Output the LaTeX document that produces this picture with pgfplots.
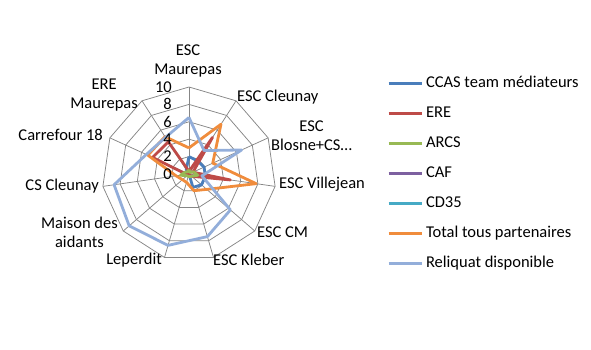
\documentclass[border=0pt]{standalone}
\usepackage{fontspec}
\setmainfont{Carlito}
\usepackage{pgfplots}
\usepackage{pgfplotstable}
\pgfplotsset{compat=1.18}
\usepgfplotslibrary{polar}
\definecolor{ccas}{HTML}{4A7EBB}
\definecolor{ere}{HTML}{BE4B48}
\definecolor{arcs}{HTML}{98B954}
\definecolor{caf}{HTML}{7D60A0}
\definecolor{cdtf}{HTML}{46AAC5}
\definecolor{total}{HTML}{F08C3C}
\definecolor{reliq}{HTML}{93AEDA}
\definecolor{gridc}{HTML}{868686}

% angle = 90 - k*360/11 ; last row closes the polygon
\pgfplotstableread{
angle    ccas ere  arcs caf cdtf total reliq
90       2.0  0.3  0.5  0   0    3.0   6.5
57.273   1.8  5.0  0.2  0   0    6.8   3.2
24.545   1.9  0.5  0.6  0   0    3.0   6.65
-8.182   1.9  4.8  1.0  0   0    7.8   1.5
-40.909  1.9  0.4  0.4  0   0    2.7   6.3
-73.636  1.6  0.1  0.3  0   0    2.0   7.5
-106.364 0.0  0.0  0.3  0   0    1.0   8.55
-139.091 0.0  0.0  0.3  0   0    1.0   9.1
-171.818 0.0  0.3  1.0  0   0    1.5   8.7
-204.545 0.0  4.6  0.5  0   0    5.2   5.4
-237.273 0.6  4.4  0.3  0   0    5.1   5.0
-270     2.0  0.3  0.5  0   0    3.0   6.5
}\radar

\begin{document}
\fontsize{16.5}{19}\selectfont
\begin{tikzpicture}[x=1pt,y=1pt]
\useasboundingbox (0,0) rectangle (591,350);
\begin{polaraxis}[
  at={(189pt,176pt)}, anchor=origin,
  width=174pt, height=174pt, scale only axis,
  ymin=0, ymax=10, hide axis, clip=false,
  legend style={at={(axis description cs:1.638,1.067)}, anchor=north west,
    draw=none, fill=none, inner sep=0pt, row sep=14pt,
    nodes={inner sep=0pt, text height=12pt, text depth=4pt, anchor=west},
    /tikz/every odd column/.append style={column sep=3pt}},
  legend cell align=left,
  legend image code/.code={\draw[#1, line width=2.8pt] (0pt,0pt) -- (33pt,0pt);},
]
% spokes
\pgfplotsinvokeforeach{90,57.273,24.545,-8.182,-40.909,-73.636,-106.364,-139.091,-171.818,-204.545,-237.273}{
  \addplot[gridc, line width=0.75pt, forget plot] coordinates {(#1,0) (#1,10)};
}
% polygonal rings
\pgfplotsinvokeforeach{2,4,6,8,10}{
  \addplot[gridc, line width=0.75pt, forget plot] coordinates {(90,#1) (57.273,#1) (24.545,#1) (-8.182,#1) (-40.909,#1) (-73.636,#1) (-106.364,#1) (-139.091,#1) (-171.818,#1) (-204.545,#1) (-237.273,#1) (-270,#1)};
}
\addplot[ccas, line width=2.8pt, line join=round] table[x=angle, y=ccas] {\radar};
\addlegendentry{CCAS team médiateurs}
\addplot[ere, line width=2.8pt, line join=round] table[x=angle, y=ere] {\radar};
\addlegendentry{ERE}
\addplot[arcs, line width=2.8pt, line join=round] table[x=angle, y=arcs] {\radar};
\addlegendentry{ARCS}
\addplot[caf, line width=2.8pt, line join=round] table[x=angle, y=caf] {\radar};
\addlegendentry{CAF}
\addplot[cdtf, line width=2.8pt, line join=round] table[x=angle, y=cdtf] {\radar};
\addlegendentry{CD35}
\addplot[total, line width=2.8pt, line join=round] table[x=angle, y=total] {\radar};
\addlegendentry{Total tous partenaires}
\addplot[reliq, line width=2.8pt, line join=round] table[x=angle, y=reliq] {\radar};
\addlegendentry{Reliquat disponible}
\end{polaraxis}
% radial tick labels
\foreach \v/\yy in {0/176,2/193.4,4/210.8,6/228.2,8/245.6,10/263}{
  \node[anchor=east, inner sep=0pt] at (172,\yy) {\v};
}
% category labels
\begin{scope}[every node/.style={inner sep=0pt, align=center}]
\node[anchor=center] at (188,289) {ESC\\Maurepas};
\node[anchor=west] at (237,253) {ESC Cleunay};
\node[anchor=west] at (271,214) {ESC\\Blosne+CS…};
\node[anchor=west] at (279,166) {ESC Villejean};
\node[anchor=west] at (257,118) {ESC CM};
\node[anchor=west] at (213,90) {ESC Kleber};
\node[anchor=east] at (162,90) {Leperdit};
\node[anchor=east] at (118,117.5) {Maison des\\aidants};
\node[anchor=east] at (99,164) {CS Cleunay};
\node[anchor=east] at (103,215) {Carrefour 18};
\node[anchor=east] at (138,255) {ERE\\Maurepas};
\end{scope}
\end{tikzpicture}
\end{document}
